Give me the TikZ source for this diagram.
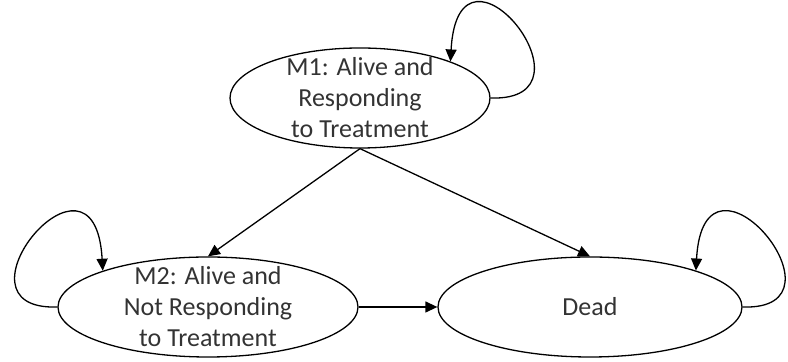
\documentclass[tikz,border=0pt]{standalone}
\usepackage{fontspec}
\setmainfont{Carlito}
\usetikzlibrary{arrows.meta,shapes.geometric}

\begin{document}
\begin{tikzpicture}[x=0.5pt,y=-0.5pt,
    state/.style={draw, ellipse, line width=0.65pt, minimum height=50pt, inner sep=0pt},
    statetext/.style={align=center, text=black!80, inner sep=0pt,
      font=\fontsize{13}{15.5}\selectfont},
    trans/.style={line width=0.65pt, -{Triangle[length=6pt,width=5.5pt]}}]
  \useasboundingbox (0,0) rectangle (788,362);
  % states
  \node[state, minimum width=130pt] (m1) at (360,98) {};
  \node[statetext] (m1text) at (m1) {M1: Alive and\\Responding\\to Treatment};
  \node[state, minimum width=150pt] (m2) at (208,307) {};
  \node[statetext] (m2text) at (m2) {M2: Alive and\\Not Responding\\to Treatment};
  \node[state, minimum width=152pt] (dead) at (590,307) {};
  \node[statetext] (deadtext) at (dead) {Dead};
  % transitions
  \draw[trans] (m1.south) -- (m2.north);
  \draw[trans] (m1.south) -- (dead.north);
  \draw[trans] (m2.east) -- (dead.west);
  % staying in the same state
  \draw[trans] (m1.east) .. controls +(115,4) and +(8,-145) .. (m1.22);
  \draw[trans] (dead.east) .. controls +(115,4) and +(8,-145) .. (dead.19);
  \draw[trans] (m2.west) .. controls +(-115,4) and +(-8,-145) .. (m2.161);
\end{tikzpicture}
\end{document}
